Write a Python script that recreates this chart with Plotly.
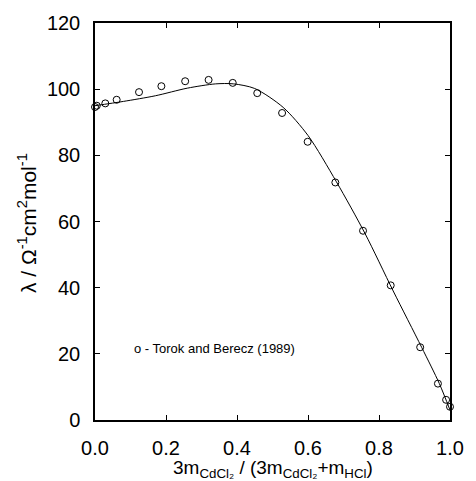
import plotly.graph_objects as go

# Experimental data (Torok and Berecz 1989)
exp_x = [0.0, 0.005, 0.029, 0.061, 0.124, 0.187, 0.254, 0.32, 0.388, 0.457, 0.527,
         0.599, 0.677, 0.755, 0.833, 0.916, 0.966, 0.989, 1.0]
exp_y = [94.6, 95.0, 95.7, 96.8, 99.1, 100.9, 102.4, 102.8, 101.9, 98.8, 92.8,
         84.1, 71.8, 57.2, 40.7, 22.0, 11.0, 6.1, 4.0]

# Model curve
fit_x = [0.0, 0.08, 0.17, 0.26, 0.34, 0.39, 0.45, 0.53, 0.6, 0.68, 0.76, 0.84, 0.92, 0.97, 1.0]
fit_y = [95.0, 96.3, 98.0, 100.3, 101.6, 101.6, 100.2, 94.5, 86.0, 72.0, 56.5, 39.0, 22.0, 11.0, 3.0]

x_ticks = [0.0, 0.2, 0.4, 0.6, 0.8, 1.0]
x_ticklabels = ["0.0", "0.2", "0.4", "0.6", "0.8", "1.0"]
y_ticks = [0, 20, 40, 60, 80, 100, 120]

FONT = "Liberation Sans, Arial, Helvetica, sans-serif"

fig = go.Figure()
fig.add_trace(go.Scatter(x=fit_x, y=fit_y, mode="lines",
                         line=dict(color="black", width=1, shape="spline", smoothing=0.8),
                         showlegend=False, hoverinfo="skip"))
fig.add_trace(go.Scatter(x=exp_x, y=exp_y, mode="markers",
                         marker=dict(symbol="circle-open", size=7, color="black",
                                     line=dict(width=1, color="black")),
                         showlegend=False, cliponaxis=False))

axis_common = dict(showgrid=False, zeroline=False, showline=True, linecolor="black",
                   linewidth=1.5, mirror="ticks", ticks="inside", ticklen=5,
                   tickcolor="black", tickwidth=1,
                   tickfont=dict(family=FONT, size=20, color="black"))

fig.update_layout(
    width=476, height=481,
    margin=dict(l=95, r=17, t=20, b=61),
    paper_bgcolor="white", plot_bgcolor="white",
    xaxis=dict(range=[0, 1.0], tickvals=x_ticks, ticktext=x_ticklabels,
               ticklabelstandoff=9, **axis_common),
    yaxis=dict(range=[0, 120], tickvals=y_ticks, ticklabelstandoff=9, **axis_common),
    annotations=[
        dict(text="3m<sub>CdCl₂</sub> / (3m<sub>CdCl₂</sub>+m<sub>HCl</sub>)",
             xref="paper", yref="paper", x=0.5, y=-0.088, yanchor="top", showarrow=False,
             font=dict(family=FONT, size=19, color="black")),
        dict(text="λ / Ω<sup>-1</sup>cm<sup>2</sup>mol<sup>-1</sup>",
             xref="paper", yref="paper", x=-0.19, y=0.495, textangle=-90,
             xanchor="center", yanchor="middle", showarrow=False,
             font=dict(family=FONT, size=21, color="black")),
        dict(text="o - Torok and Berecz (1989)", xref="x", yref="y",
             x=0.103, y=21.5, xanchor="left", yanchor="middle", showarrow=False,
             font=dict(family=FONT, size=13, color="black")),
    ],
)

fig.write_html("out.html")
